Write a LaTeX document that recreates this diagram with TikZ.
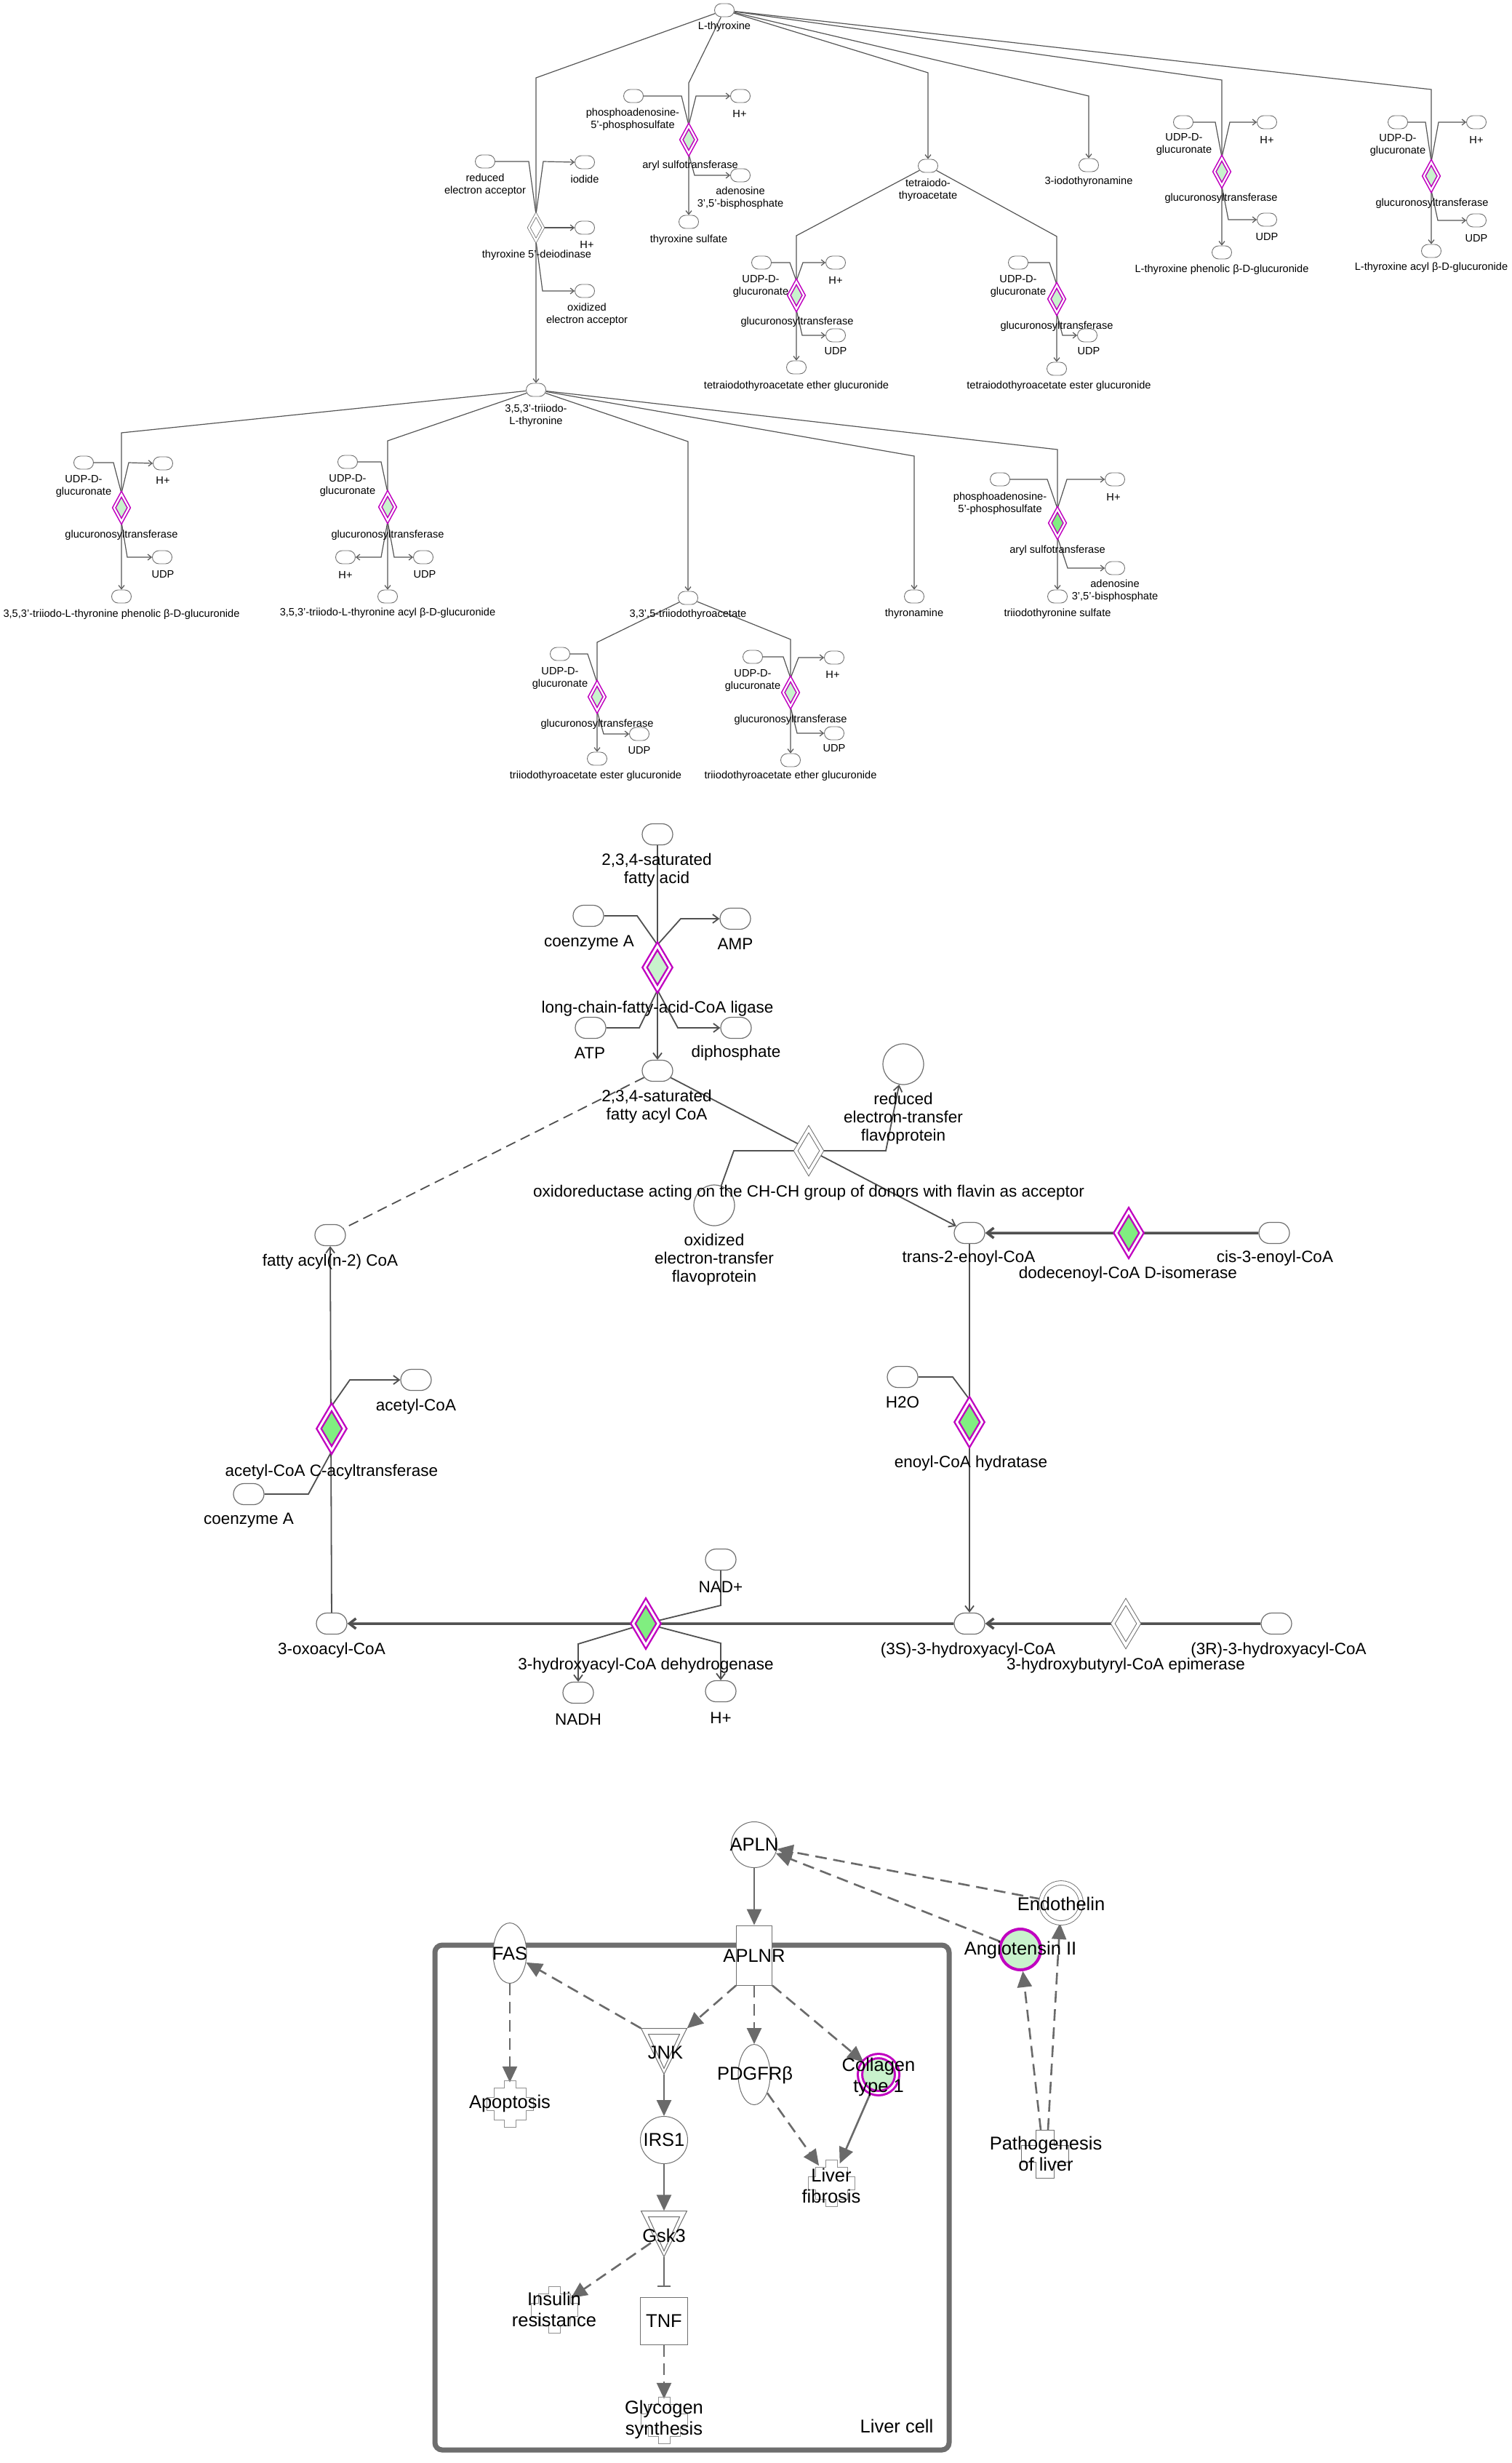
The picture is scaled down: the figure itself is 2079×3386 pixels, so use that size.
\documentclass[tikz,border=0pt]{standalone}
\usepackage{fontspec}
\setmainfont{Liberation Sans}
\usetikzlibrary{shapes.geometric,shapes.misc,arrows.meta,backgrounds}
\newcommand\ftop{\fontsize{14.6}{17}\selectfont}
\newcommand\fmid{\fontsize{22.5}{25}\selectfont}
\newcommand\fbot{\fontsize{25.5}{29}\selectfont}
\definecolor{mag}{HTML}{C000C0}
\definecolor{pgreen}{HTML}{C8F2CC}
\definecolor{bgreen}{HTML}{80EE80}
\definecolor{tgrey}{HTML}{555555}
\definecolor{ngrey}{HTML}{707070}
\definecolor{mgrey}{HTML}{505050}
\definecolor{bgrey}{HTML}{6A6A6A}
\definecolor{boxgrey}{HTML}{6E6E6E}
\definecolor{fgrey}{HTML}{909090}
\begin{document}
\begin{tikzpicture}[x=1pt,y=-1pt,
 tline/.style={draw=tgrey, line width=1.2pt},
 tarr/.style={tline, -{Straight Barb[length=5pt,width=8pt]}},
 sm/.style={rounded rectangle, draw=ngrey, line width=0.9pt, fill=white, minimum width=27pt, minimum height=18pt, inner sep=0pt},
 tl/.style={font=\ftop, align=center, inner sep=0pt},
 tenz/.style={diamond, draw=mag, line width=1.6pt, double=white, double distance=2.2pt, fill=pgreen, minimum width=21pt, minimum height=38pt, inner sep=0pt},
 twenz/.style={diamond, draw=ngrey, line width=0.8pt, double=white, double distance=2.6pt, fill=white, minimum width=20pt, minimum height=36pt, inner sep=0pt},
 mline/.style={draw=mgrey, line width=1.8pt},
 marr/.style={mline, -{Straight Barb[length=8pt,width=12pt]}},
 mthick/.style={draw=mgrey, line width=3.5pt, -{Straight Barb[length=9pt,width=14pt]}},
 mdash/.style={mline, dash pattern=on 14pt off 8pt},
 msm/.style={rounded rectangle, draw=ngrey, line width=1.2pt, fill=white, minimum width=42pt, minimum height=29pt, inner sep=0pt},
 ml/.style={font=\fmid, align=center, inner sep=0pt},
 menz/.style={diamond, draw=mag, line width=2.4pt, double=white, double distance=3pt, fill=#1, minimum width=36pt, minimum height=60pt, inner sep=0pt},
 mwenz/.style={diamond, draw=ngrey, line width=1pt, double=white, double distance=4pt, fill=white, minimum width=36pt, minimum height=60pt, inner sep=0pt},
 bline/.style={draw=bgrey, line width=2.6pt},
 barr/.style={bline, -{Triangle[length=22pt,width=20pt]}},
 bdarr/.style={barr, dash pattern=on 16pt off 9pt},
 bl/.style={font=\fbot, align=center, inner sep=0pt},
 bnode/.style={draw=ngrey, line width=1pt, fill=white, inner sep=0pt},
 gear/.pic={\draw[draw=fgrey, line width=1pt] (-8,-32) -- (8,-32) -- (8,-22) -- (22,-22) -- (22,-9) -- (32,-9) -- (32,9) -- (22,9) -- (22,22) -- (8,22) -- (8,32) -- (-8,32) -- (-8,22) -- (-22,22) -- (-22,9) -- (-32,9) -- (-32,-9) -- (-22,-9) -- (-22,-22) -- (-8,-22) -- cycle;},
 plusshape/.pic={\draw[draw=ngrey, line width=1pt] (-12.5,-33) -- (12.5,-33) -- (12.5,-11.5) -- (32.5,-11.5) -- (32.5,11.5) -- (12.5,11.5) -- (12.5,33) -- (-12.5,33) -- (-12.5,11.5) -- (-32.5,11.5) -- (-32.5,-11.5) -- (-12.5,-11.5) -- cycle;},
 dtri/.pic={\draw[draw=ngrey, line width=1pt, fill=white] (-31.5,-31.5) -- (31.5,-31.5) -- (0,31.5) -- cycle; \draw[draw=ngrey, line width=1pt] (-21.5,-23.5) -- (21.5,-23.5) -- (0,23.5) -- cycle;}
]
\useasboundingbox (0,0) rectangle (2079,3386);

%%%%%%%%%%%%%%%% TOP SECTION %%%%%%%%%%%%%%%%
\node[sm] (lt) at (996,14) {};
\node[tl] at (996,37) {L-thyroxine};
% deiodinase
\node[twenz] (deio) at (737,313) {};
\node[sm] (tri) at (737,536) {};
\node[tl] at (737,571) {3,5,3'-triiodo-\\L-thyronine};
\node[sm] (redacc) at (667,222) {};
\node[tl] at (667,254) {reduced\\electron acceptor};
\node[sm] (iodide) at (804,223) {};
\node[tl] at (804,246) {iodide};
\node[sm] (hdeio) at (804,313) {};
\node[tl] at (807,336) {H+};
\node[sm] (oxacc) at (804,400) {};
\node[tl] at (807,432) {oxidized\\electron acceptor};
\node[tl] at (738,351) {thyroxine 5'-deiodinase};
% aryl sulfotransferase 1
\node[tenz] (aryl1) at (947,192) {};
\node[sm] (tsulf) at (947,305) {};
\node[tl] at (947,330) {thyroxine sulfate};
\node[sm] (paps1) at (871,132) {};
\node[tl] at (870,164) {phosphoadenosine-\\5'-phosphosulfate};
\node[sm] (h1) at (1018,132) {};
\node[tl] at (1017,156) {H+};
\node[tl] at (949,228) {aryl sulfotransferase};
\node[sm] (adp1) at (1018,241) {};
\node[tl] at (1018,272) {adenosine\\3',5'-bisphosphate};
% tetraiodothyroacetate
\node[sm] (tetra) at (1276,228) {};
\node[tl] at (1276,261) {tetraiodo-\\thyroacetate};
\node[tenz] (gt1) at (1095,406) {};
\node[sm] (teg) at (1095,505) {};
\node[tl] at (1095,531) {tetraiodothyroacetate ether glucuronide};
\node[sm] (udpg1) at (1047,361) {};
\node[tl] at (1046,393) {UDP-D-\\glucuronate};
\node[sm] (h2) at (1149,361) {};
\node[tl] at (1149,385) {H+};
\node[tl] at (1096,443) {glucuronosyltransferase};
\node[sm] (udp1) at (1149,461) {};
\node[tl] at (1149,483) {UDP};
\node[tenz] (gt2) at (1453,411) {};
\node[sm] (tes) at (1453,507) {};
\node[tl] at (1456,531) {tetraiodothyroacetate ester glucuronide};
\node[sm] (udpg2) at (1400,361) {};
\node[tl] at (1400,393) {UDP-D-\\glucuronate};
\node[tl] at (1453,449) {glucuronosyltransferase};
\node[sm] (udp2) at (1495,461) {};
\node[tl] at (1497,483) {UDP};
% 3-iodothyronamine
\node[sm] (ityr) at (1497,227) {};
\node[tl] at (1497,250) {3-iodothyronamine};
% phenolic
\node[tenz] (gt3) at (1680,236) {};
\node[sm] (tpg) at (1680,347) {};
\node[tl] at (1680,371) {L-thyroxine phenolic β-D-glucuronide};
\node[sm] (udpg3) at (1627,168) {};
\node[tl] at (1628,198) {UDP-D-\\glucuronate};
\node[sm] (h3) at (1742,168) {};
\node[tl] at (1742,192) {H+};
\node[tl] at (1679,273) {glucuronosyltransferase};
\node[sm] (udp3) at (1742,302) {};
\node[tl] at (1742,326) {UDP};
% acyl
\node[tenz] (gt4) at (1968,242) {};
\node[sm] (tag) at (1968,345) {};
\node[tl] at (1968,368) {L-thyroxine acyl β-D-glucuronide};
\node[sm] (udpg4) at (1922,168) {};
\node[tl] at (1922,199) {UDP-D-\\glucuronate};
\node[sm] (h4) at (2030,168) {};
\node[tl] at (2030,192) {H+};
\node[tl] at (1969,280) {glucuronosyltransferase};
\node[sm] (udp4) at (2030,303) {};
\node[tl] at (2030,328) {UDP};
% T3 level
\node[tenz] (gt5) at (167,698) {};
\node[sm] (t3pg) at (167,820) {};
\node[tl] at (167,845) {3,5,3'-triiodo-L-thyronine phenolic β-D-glucuronide};
\node[sm] (udpg5) at (115,636) {};
\node[tl] at (115,668) {UDP-D-\\glucuronate};
\node[sm] (h5) at (224,637) {};
\node[tl] at (224,660) {H+};
\node[tl] at (167,736) {glucuronosyltransferase};
\node[sm] (udp5) at (223,766) {};
\node[tl] at (224,790) {UDP};
\node[tenz] (gt6) at (533,697) {};
\node[sm] (t3ag) at (533,820) {};
\node[tl] at (533,843) {3,5,3'-triiodo-L-thyronine acyl β-D-glucuronide};
\node[sm] (udpg6) at (478,635) {};
\node[tl] at (478,667) {UDP-D-\\glucuronate};
\node[tl] at (533,736) {glucuronosyltransferase};
\node[sm] (h6) at (475,766) {};
\node[tl] at (475,790) {H+};
\node[sm] (udp6) at (582,766) {};
\node[tl] at (584,790) {UDP};
\node[sm] (triac) at (946,822) {};
\node[tl] at (946,845) {3,3',5-triiodothyroacetate};
\node[sm] (thyr) at (1257,820) {};
\node[tl] at (1257,844) {thyronamine};
\node[tenz, fill=bgreen] (aryl2) at (1454,719) {};
\node[sm] (t3s) at (1454,820) {};
\node[tl] at (1454,844) {triiodothyronine sulfate};
\node[sm] (paps2) at (1375,659) {};
\node[tl] at (1375,692) {phosphoadenosine-\\5'-phosphosulfate};
\node[sm] (h7) at (1533,659) {};
\node[tl] at (1531,683) {H+};
\node[tl] at (1454,757) {aryl sulfotransferase};
\node[sm] (adp2) at (1533,781) {};
\node[tl] at (1533,812) {adenosine\\3',5'-bisphosphate};
% triac level
\node[tenz] (gt7) at (821,958) {};
\node[sm] (tceg) at (821,1043) {};
\node[tl] at (819,1067) {triiodothyroacetate ester glucuronide};
\node[sm] (udpg7) at (770,899) {};
\node[tl] at (770,932) {UDP-D-\\glucuronate};
\node[tl] at (821,996) {glucuronosyltransferase};
\node[sm] (udp7) at (879,1009) {};
\node[tl] at (879,1032) {UDP};
\node[tenz] (gt8) at (1087,952) {};
\node[sm] (theg) at (1087,1045) {};
\node[tl] at (1087,1067) {triiodothyroacetate ether glucuronide};
\node[sm] (udpg8) at (1035,903) {};
\node[tl] at (1035,935) {UDP-D-\\glucuronate};
\node[sm] (h8) at (1147,904) {};
\node[tl] at (1145,927) {H+};
\node[tl] at (1087,990) {glucuronosyltransferase};
\node[sm] (udp8) at (1147,1008) {};
\node[tl] at (1147,1029) {UDP};

%%%%%%%%%%%%%%%% MIDDLE SECTION %%%%%%%%%%%%%%%%
\node[msm] (fa) at (904,1147) {};
\node[ml] at (903,1196) {2,3,4-saturated\\fatty acid};
\node[menz=pgreen] (lig) at (904,1330) {};
\node[msm] (facoa) at (904,1472) {};
\node[ml] at (903,1521) {2,3,4-saturated\\fatty acyl CoA};
\node[msm] (coa1) at (809,1259) {};
\node[ml] at (810,1296) {coenzyme A};
\node[msm] (amp) at (1011,1263) {};
\node[ml] at (1011,1298) {AMP};
\node[ml] at (904,1387) {long-chain-fatty-acid-CoA ligase};
\node[msm] (atp) at (812,1413) {};
\node[ml] at (811,1448) {ATP};
\node[msm] (pp) at (1012,1413) {};
\node[ml] at (1012,1448) {diphosphate};
\node[mwenz] (oxr) at (1112,1582) {};
\node[circle, draw=ngrey, line width=1.2pt, fill=white, minimum size=56pt, inner sep=0pt] (oxet) at (982,1657) {};
\node[ml] at (1112,1640) {oxidoreductase acting on the CH-CH group of donors with flavin as acceptor};
\node[ml] at (982,1732) {oxidized\\electron-transfer\\flavoprotein};
\node[circle, draw=ngrey, line width=1.2pt, fill=white, minimum size=56pt, inner sep=0pt] (redet) at (1242,1463) {};
\node[ml] at (1242,1538) {reduced\\electron-transfer\\flavoprotein};
\node[msm] (fan2) at (454,1698) {};
\node[ml] at (454,1735) {fatty acyl(n-2) CoA};
\node[msm] (tenoyl) at (1333,1695) {};
\node[ml] at (1332,1730) {trans-2-enoyl-CoA};
\node[menz=bgreen] (dodec) at (1552,1695) {};
\node[ml] at (1551,1752) {dodecenoyl-CoA D-isomerase};
\node[msm] (cis) at (1752,1695) {};
\node[ml] at (1753,1730) {cis-3-enoyl-CoA};
\node[menz=bgreen] (hyd) at (1333,1955) {};
\node[ml] at (1335,2012) {enoyl-CoA hydratase};
\node[msm] (h2o) at (1241,1893) {};
\node[ml] at (1241,1928) {H2O};
\node[msm] (s3) at (1333,2232) {};
\node[ml] at (1331,2269) {(3S)-3-hydroxyacyl-CoA};
\node[mwenz] (epi) at (1548,2232) {};
\node[ml] at (1548,2290) {3-hydroxybutyryl-CoA epimerase};
\node[msm] (r3) at (1755,2232) {};
\node[ml] at (1758,2269) {(3R)-3-hydroxyacyl-CoA};
\node[menz=bgreen] (dhd) at (888,2232) {};
\node[ml] at (888,2290) {3-hydroxyacyl-CoA dehydrogenase};
\node[msm] (oxo) at (456,2232) {};
\node[ml] at (456,2269) {3-oxoacyl-CoA};
\node[msm] (nad) at (991,2144) {};
\node[ml] at (991,2182) {NAD+};
\node[msm] (nadh) at (795,2327) {};
\node[ml] at (795,2364) {NADH};
\node[msm] (hp) at (991,2325) {};
\node[ml] at (991,2362) {H+};
\node[menz=bgreen] (act) at (456,1964) {};
\node[ml] at (456,2024) {acetyl-CoA C-acyltransferase};
\node[msm] (acoa) at (572,1897) {};
\node[ml] at (572,1934) {acetyl-CoA};
\node[msm] (coa2) at (342,2054) {};
\node[ml] at (342,2090) {coenzyme A};

%%%%%%%%%%%%%%%% BOTTOM SECTION %%%%%%%%%%%%%%%%
\node[draw=boxgrey, line width=7pt, rounded corners=10pt, minimum width=707pt, minimum height=694pt, inner sep=0pt] (cell) at (951.5,3021) {};
\node[bl] at (1233,3335) {Liver cell};
\node[circle, bnode, minimum size=63pt] (apln) at (1037,2536) {};
\node[bl] at (1037,2536) {APLN};
\node[rectangle, bnode, minimum width=49pt, minimum height=82pt] (aplnr) at (1037,2688) {};
\node[bl] at (1037,2689) {APLNR};
\node[circle, draw=ngrey, line width=0.9pt, double=white, double distance=5pt, fill=white, minimum size=55pt, inner sep=0pt] (endo) at (1459,2616) {};
\node[bl] at (1459,2617) {Endothelin};
\node[circle, draw=mag, line width=4pt, fill=pgreen, minimum size=56pt, inner sep=0pt] (ang) at (1403,2680) {};
\node[bl] at (1403,2681) {Angiotensin II};
\node[inner sep=0pt, minimum width=25pt, minimum height=66pt] (patho) at (1437,2961) {};
\pic at (1437,2961) {plusshape};
\node[bl] at (1438,2961) {Pathogenesis\\of liver};
\node[ellipse, bnode, minimum width=46pt, minimum height=83pt] (fas) at (701,2685) {};
\node[bl] at (701,2686) {FAS};
\node[circle, inner sep=0pt, minimum size=58pt] (apop) at (701,2892) {};
\pic at (701,2892) {gear};
\node[bl] at (701,2892) {Apoptosis};
\node[inner sep=0pt, minimum width=63pt, minimum height=63pt] (jnk) at (913,2820) {};
\pic at (913,2820) {dtri};
\node[bl] at (915,2822) {JNK};
\node[ellipse, bnode, minimum width=44pt, minimum height=83pt] (pdgf) at (1037,2852) {};
\node[bl] at (1038,2853) {PDGFRβ};
\node[circle, draw=mag, line width=3pt, double=white, double distance=3pt, fill=pgreen, minimum size=51pt, inner sep=0pt] (coll) at (1208,2852) {};
\node[bl] at (1208,2855) {Collagen\\type 1};
\node[circle, inner sep=0pt, minimum size=58pt] (lfib) at (1143,3001) {};
\pic at (1143,3001) {gear};
\node[bl] at (1143,3005) {Liver\\fibrosis};
\node[circle, bnode, minimum size=65pt] (irs1) at (913,2942) {};
\node[bl] at (913,2942) {IRS1};
\node[inner sep=0pt, minimum width=65pt, minimum height=63pt] (gsk3) at (913,3071) {};
\pic at (913,3071) {dtri};
\node[bl] at (913,3073) {Gsk3};
\node[rectangle, bnode, minimum width=65pt, minimum height=65pt] (tnf) at (913,3191) {};
\node[bl] at (913,3191) {TNF};
\node[circle, inner sep=0pt, minimum size=56pt] (insres) at (762,3175) {};
\pic at (762,3175) {gear};
\node[bl] at (762,3175) {Insulin\\resistance};
\node[circle, inner sep=0pt, minimum size=58pt] (glyc) at (913,3327) {};
\pic at (913,3327) {gear};
\node[bl] at (913,3326) {Glycogen\\synthesis};

%%%%%%%%%%%%%%%% CONNECTORS %%%%%%%%%%%%%%%%
\begin{scope}[on background layer]
\fill[white] (0,0) rectangle (2079,3386);
% top
\draw[tarr] (lt) -- (737,107) -- (tri);
\draw[tline] (redacc.east) -- (727,222) -- (deio.north);
\draw[tarr] (deio.north) -- (747,222) -- (iodide.west);
\draw[tarr] (deio.east) -- (hdeio.west);
\draw[tarr] (deio.south) -- (746,400) -- (oxacc.west);
\draw[tarr] (lt) -- (947,114) -- (tsulf);
\draw[tline] (paps1.east) -- (937,132) -- (aryl1.north);
\draw[tarr] (aryl1.north) -- (957,132) -- (h1.west);
\draw[tarr] (aryl1.south) -- (955,241) -- (adp1.west);
\draw[tarr] (lt) -- (1276,100) -- (tetra);
\draw[tarr] (tetra) -- (1095,324) -- (teg);
\draw[tline] (udpg1.east) -- (1086,361) -- (gt1.north);
\draw[tarr] (gt1.north) -- (1104,361) -- (h2.west);
\draw[tarr] (gt1.south) -- (1103,461) -- (udp1.west);
\draw[tarr] (tetra) -- (1453,325) -- (tes);
\draw[tline] (udpg2.east) -- (1443,361) -- (gt2.north);
\draw[tarr] (gt2.south) -- (1461,461) -- (udp2.west);
\draw[tarr] (lt) -- (1497,132) -- (ityr);
\draw[tarr] (lt) -- (1680,110) -- (tpg);
\draw[tline] (udpg3.east) -- (1671,168) -- (gt3.north);
\draw[tarr] (gt3.north) -- (1691,168) -- (h3.west);
\draw[tarr] (gt3.south) -- (1689,302) -- (udp3.west);
\draw[tarr] (lt) -- (1968,123) -- (tag);
\draw[tline] (udpg4.east) -- (1960,168) -- (gt4.north);
\draw[tarr] (gt4.north) -- (1978,168) -- (h4.west);
\draw[tarr] (gt4.south) -- (1977,303) -- (udp4.west);
\draw[tarr] (tri) -- (167,595) -- (t3pg);
\draw[tline] (udpg5.east) -- (156,636) -- (gt5.north);
\draw[tarr] (gt5.north) -- (177,636) -- (h5.west);
\draw[tarr] (gt5.south) -- (175,766) -- (udp5.west);
\draw[tarr] (tri) -- (533,606) -- (t3ag);
\draw[tline] (udpg6.east) -- (524,635) -- (gt6.north);
\draw[tarr] (gt6.south) -- (524,766) -- (h6.east);
\draw[tarr] (gt6.south) -- (542,766) -- (udp6.west);
\draw[tarr] (tri) -- (946,607) -- (triac);
\draw[tarr] (tri) -- (1257,627) -- (thyr);
\draw[tarr] (tri) -- (1454,618) -- (t3s);
\draw[tline] (paps2.east) -- (1440,659) -- (aryl2.north);
\draw[tarr] (aryl2.north) -- (1467,659) -- (h7.west);
\draw[tarr] (aryl2.south) -- (1468,781) -- (adp2.west);
\draw[tarr] (triac) -- (821,883) -- (tceg);
\draw[tline] (udpg7.east) -- (808,899) -- (gt7.north);
\draw[tarr] (gt7.south) -- (830,1009) -- (udp7.west);
\draw[tarr] (triac) -- (1087,879) -- (theg);
\draw[tline] (udpg8.east) -- (1077,903) -- (gt8.north);
\draw[tarr] (gt8.north) -- (1098,904) -- (h8.west);
\draw[tarr] (gt8.south) -- (1096,1008) -- (udp8.west);
% middle
\draw[marr] (fa) -- (facoa);
\draw[mline] (coa1.east) -- (876,1259) -- (lig.north);
\draw[marr] (lig.north) -- (936,1263) -- (amp.west);
\draw[mline] (atp.east) -- (879,1413) -- (lig.south);
\draw[marr] (lig.south) -- (932,1413) -- (pp.west);
\draw[marr] (facoa) -- (tenoyl);
\draw[mline] (oxet) -- (1009,1582) -- (oxr.west);
\draw[marr] (oxr.east) -- (1218,1582) -- (redet);
\draw[mdash] (facoa) -- (fan2);
\draw[mthick] (cis) -- (tenoyl);
\draw[marr] (tenoyl) -- (s3);
\draw[mline] (h2o.east) -- (1310,1893) -- (hyd.north);
\draw[mthick] (r3) -- (s3);
\draw[mthick] (s3) -- (oxo);
\draw[mline] (nad) -- (991,2207) -- (dhd.center);
\draw[marr] (dhd.center) -- (795,2260) -- (nadh);
\draw[marr] (dhd.center) -- (991,2259) -- (hp);
\draw[marr] (oxo) -- (fan2);
\draw[marr] (act.north) -- (481,1897) -- (acoa.west);
\draw[mline] (coa2.east) -- (424,2054) -- (act.south);
% bottom
\draw[barr] (apln) -- (aplnr);
\draw[bdarr] (endo) -- (apln);
\draw[bdarr] (ang) -- (apln);
\draw[bdarr] ([xshift=-6pt]patho.north) -- (ang);
\draw[bdarr] ([xshift=4pt]patho.north) -- (endo);
\draw[bdarr] (aplnr.south west) -- (jnk.north east);
\draw[bdarr] (jnk.north west) -- (fas);
\draw[bdarr] (aplnr) -- (pdgf);
\draw[bdarr] (aplnr.south east) -- (coll);
\draw[bdarr] (fas) -- (apop);
\draw[barr] (jnk.south) -- (irs1);
\draw[bdarr] (pdgf) -- (lfib);
\draw[barr] (coll) -- (lfib);
\draw[barr] (irs1) -- (gsk3.north);
\draw[bdarr, shorten <=22pt] (gsk3.center) -- (insres);
\draw[bline, -{Bar[width=18pt,line width=2.5pt]}, shorten >=14pt] (gsk3.south) -- (tnf.north);
\draw[bdarr] (tnf) -- (glyc);
\end{scope}
\end{tikzpicture}
\end{document}
